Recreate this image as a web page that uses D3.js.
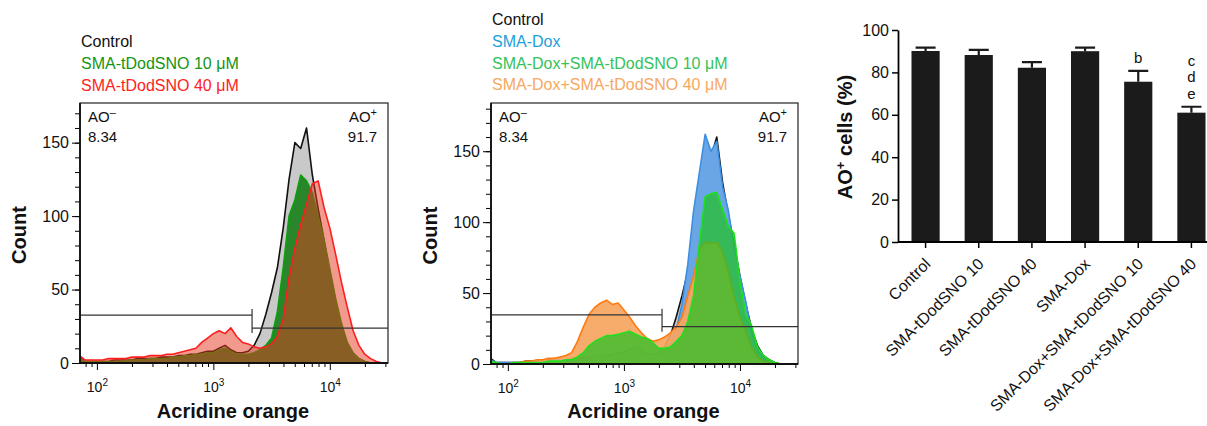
<!DOCTYPE html>
<html>
<head>
<meta charset="utf-8">
<script src="https://cdn.jsdelivr.net/npm/d3@7"></script>
<style>
body { margin: 0; background: #fff; }
svg text { font-family: "Liberation Sans", Arial, sans-serif; fill: #111; }
</style>
</head>
<body>
<svg id="chart" width="1207" height="426"></svg>
<script>
// histogram bins, log10 of acridine orange intensity
var logBins = [
  1.85, 1.90, 1.95, 2.00, 2.05, 2.10, 2.15, 2.20, 2.25, 2.30,
  2.35, 2.40, 2.45, 2.50, 2.55, 2.60, 2.65, 2.70, 2.75, 2.80,
  2.85, 2.90, 2.95, 3.00, 3.05, 3.10, 3.15, 3.20, 3.25, 3.30,
  3.35, 3.40, 3.45, 3.50, 3.55, 3.60, 3.65, 3.70, 3.75, 3.80,
  3.85, 3.90, 3.95, 4.00, 4.05, 4.10, 4.15, 4.20, 4.25, 4.30,
  4.35, 4.40, 4.45, 4.50];

var controlCounts = [
  4, 1, 1, 1, 1, 1, 2, 2, 2, 2,
  3, 3, 3, 3, 4, 4, 4, 5, 5, 6,
  6, 7, 8, 8, 10, 12, 9, 7, 7, 8,
  12, 20, 33, 48, 65, 92, 125, 150, 146, 160,
  128, 105, 84, 62, 42, 25, 13, 6, 3, 1,
  0, 0, 0, 0];

var tDod10Counts = [
  3, 1, 1, 1, 1, 1, 1, 1, 2, 2,
  2, 2, 3, 3, 3, 3, 4, 4, 5, 5,
  6, 6, 7, 7, 9, 10, 8, 6, 6, 6,
  7, 9, 12, 17, 35, 65, 100, 111, 128, 124,
  116, 100, 84, 64, 44, 27, 14, 7, 3, 1,
  0, 0, 0, 0];

var tDod40Counts = [
  5, 2, 2, 2, 2, 3, 3, 3, 3, 4,
  4, 4, 5, 5, 5, 6, 6, 7, 8, 9,
  10, 14, 17, 20, 22, 20, 24, 18, 14, 13,
  11, 10, 11, 13, 18, 30, 58, 78, 94, 108,
  122, 124, 106, 92, 74, 55, 38, 22, 12, 6,
  3, 1, 0, 0];

var doxCounts = [
  3, 1, 1, 1, 1, 1, 1, 2, 2, 2,
  2, 3, 3, 3, 3, 4, 4, 4, 5, 5,
  5, 6, 6, 7, 7, 8, 7, 6, 6, 7,
  10, 14, 24, 42, 70, 108, 135, 162, 150, 157,
  125, 108, 82, 62, 44, 22, 10, 4, 1, 0,
  0, 0, 0, 0];

var dox10Counts = [
  2, 1, 0, 0, 1, 1, 1, 1, 1, 1,
  2, 2, 2, 3, 3, 5, 8, 13, 16, 18,
  20, 20, 21, 22, 23, 21, 19, 18, 15, 11,
  11, 12, 16, 20, 30, 48, 85, 118, 120, 121,
  109, 97, 92, 58, 35, 27, 12, 6, 3, 1,
  0, 0, 0, 0];

var dox40Counts = [
  0, 0, 0, 0, 1, 1, 2, 2, 3, 3,
  4, 4, 5, 6, 8, 16, 26, 35, 40, 43,
  45, 42, 43, 38, 33, 27, 22, 18, 16, 17,
  19, 22, 26, 33, 48, 62, 81, 86, 85, 86,
  79, 65, 47, 33, 23, 12, 5, 2, 1, 0,
  0, 0, 0, 0];

var gateLabels = ["AO", "8.34", "AO", "91.7"];

// bar chart
var barCats = ["Control", "SMA-tDodSNO 10", "SMA-tDodSNO 40", "SMA-Dox",
  "SMA-Dox+SMA-tDodSNO 10", "SMA-Dox+SMA-tDodSNO 40"];
var barMeans = [90.1, 88.2, 82.2, 90.0, 75.6, 61.0];
var barErrors = [1.6, 2.4, 2.6, 1.7, 5.1, 2.8];
var barLetters = [[], [], [], [], ["b"], ["c", "d", "e"]];
var barTicks = [0, 20, 40, 60, 80, 100];

var svg = d3.select("#chart");

function drawHist(p) {
  var x = d3.scaleLog().domain([71.6, 31600]).range([p.left, p.right]);
  var y = d3.scaleLinear().domain([0, p.yMax]).range([p.bottom, p.top]);
  var g = svg.append("g");

  g.append("clipPath").attr("id", "clip" + p.id)
    .append("rect")
    .attr("x", p.left).attr("y", p.top)
    .attr("width", p.right - p.left).attr("height", p.bottom - p.top);

  var area = d3.area()
    .x(function(d, i) { return x(Math.pow(10, logBins[i])); })
    .y0(y(0))
    .y1(function(d) { return y(d); });
  var line = d3.line()
    .x(function(d, i) { return x(Math.pow(10, logBins[i])); })
    .y(function(d) { return y(d); });

  var plot = g.append("g").attr("clip-path", "url(#clip" + p.id + ")");
  p.series.forEach(function(s) {
    plot.append("path").datum(s.counts)
      .attr("d", area)
      .attr("fill", s.fill)
      .attr("fill-opacity", s.alpha);
    plot.append("path").datum(s.counts)
      .attr("d", line)
      .attr("fill", "none")
      .attr("stroke", s.stroke)
      .attr("stroke-width", 1.6)
      .attr("stroke-linejoin", "round");
  });

  // gates
  var gx = x(p.gate);
  g.append("line").attr("x1", p.left).attr("x2", gx)
    .attr("y1", y(p.gateLow)).attr("y2", y(p.gateLow))
    .attr("stroke", "#333").attr("stroke-width", 1.2);
  g.append("line").attr("x1", gx).attr("x2", p.right)
    .attr("y1", y(p.gateHigh)).attr("y2", y(p.gateHigh))
    .attr("stroke", "#333").attr("stroke-width", 1.2);
  g.append("line").attr("x1", gx).attr("x2", gx)
    .attr("y1", y(p.gateLow) - 6).attr("y2", y(p.gateHigh) + 5)
    .attr("stroke", "#333").attr("stroke-width", 1.2);

  // frame
  g.append("rect")
    .attr("x", p.left).attr("y", p.top)
    .attr("width", p.right - p.left).attr("height", p.bottom - p.top)
    .attr("fill", "none").attr("stroke", "#222").attr("stroke-width", 1.2);

  // y axis
  var yMinor = d3.range(0, p.yMax, 10);
  g.append("g").attr("transform", "translate(" + p.left + ",0)")
    .call(d3.axisLeft(y).tickValues(yMinor).tickSize(5).tickFormat(""))
    .call(function(a) { a.select(".domain").remove(); });
  g.append("g").attr("transform", "translate(" + p.left + ",0)")
    .call(d3.axisLeft(y).tickValues([0, 50, 100, 150]).tickSize(8).tickPadding(3))
    .call(function(a) {
      a.select(".domain").remove();
      a.selectAll("text").style("font-size", "16px").attr("fill", "#111");
    });
  g.append("line").attr("x1", p.left).attr("x2", p.left)
    .attr("y1", p.top).attr("y2", p.bottom)
    .attr("stroke", "#111").attr("stroke-width", 1.8);

  // x axis
  var xMinor = [80, 90, 200, 300, 400, 500, 600, 700, 800, 900,
    2000, 3000, 4000, 5000, 6000, 7000, 8000, 9000, 20000, 30000];
  g.append("g").attr("transform", "translate(0," + p.bottom + ")")
    .call(d3.axisBottom(x).tickValues(xMinor).tickSize(4).tickFormat(""))
    .call(function(a) { a.select(".domain").remove(); });
  var xMaj = g.append("g").attr("transform", "translate(0," + p.bottom + ")")
    .call(d3.axisBottom(x).tickValues([100, 1000, 10000]).tickSize(7).tickFormat(""))
    .call(function(a) { a.select(".domain").remove(); });
  xMaj.selectAll(".tick").each(function(d) {
    var t = d3.select(this).append("text")
      .attr("y", 29).attr("text-anchor", "middle")
      .style("font-size", "14px").attr("fill", "#111");
    t.append("tspan").text("10");
    t.append("tspan").attr("dy", -6).style("font-size", "10px")
      .text(Math.round(Math.log10(d)));
  });
  g.append("line").attr("x1", p.left).attr("x2", p.right)
    .attr("y1", p.bottom).attr("y2", p.bottom)
    .attr("stroke", "#111").attr("stroke-width", 1.8);

  // axis titles
  g.append("text")
    .attr("transform", "translate(" + p.countX + "," + ((p.top + p.bottom) / 2 + 2) + ") rotate(-90)")
    .attr("text-anchor", "middle")
    .style("font-size", "20px").style("font-weight", "bold")
    .text("Count");
  g.append("text")
    .attr("x", (p.left + p.right) / 2 - 1).attr("y", 418)
    .attr("text-anchor", "middle")
    .style("font-size", "20px").style("font-weight", "bold")
    .text("Acridine orange");

  // gate labels
  var neg = g.append("text").attr("x", p.left + 8).attr("y", p.top + 19).style("font-size", "15px");
  neg.append("tspan").text(gateLabels[0]);
  neg.append("tspan").attr("dy", -6).style("font-size", "11px").text("\u2013");
  g.append("text").attr("x", p.left + 8).attr("y", p.top + 39).style("font-size", "15px").text(gateLabels[1]);
  var pos = g.append("text").attr("x", p.right - 11).attr("y", p.top + 19)
    .attr("text-anchor", "end").style("font-size", "15px");
  pos.append("tspan").text(gateLabels[2]);
  pos.append("tspan").attr("dy", -6).style("font-size", "11px").text("+");
  g.append("text").attr("x", p.right - 11).attr("y", p.top + 39)
    .attr("text-anchor", "end").style("font-size", "15px").text(gateLabels[3]);

  // legend
  p.legend.forEach(function(l, i) {
    g.append("text")
      .attr("x", p.left + 1).attr("y", p.legendY + i * 21.8)
      .style("font-size", "16px")
      .style("fill", l.color)
      .text(l.name);
  });
}

drawHist({
  id: "a", left: 80, right: 388, top: 103, bottom: 363, yMax: 177,
  countX: 26, gate: 2150, gateLow: 32.6, gateHigh: 23.8,
  legendY: 47,
  legend: [
    { name: "Control", color: "#111" },
    { name: "SMA-tDodSNO 10 \u03bcM", color: "#149414" },
    { name: "SMA-tDodSNO 40 \u03bcM", color: "#ff2222" }
  ],
  series: [
    { counts: controlCounts, fill: "#c9c9c9", alpha: 1, stroke: "#111" },
    { counts: tDod10Counts, fill: "#2a862a", alpha: 1, stroke: "#0e9e0e" },
    { counts: tDod40Counts, fill: "#e8361e", alpha: 0.5, stroke: "#ff1e1e" }
  ]
});

drawHist({
  id: "b", left: 491, right: 798, top: 103, bottom: 364, yMax: 184,
  countX: 437, gate: 2130, gateLow: 34.7, gateHigh: 26.3,
  legendY: 25,
  legend: [
    { name: "Control", color: "#111" },
    { name: "SMA-Dox", color: "#1ea0d8" },
    { name: "SMA-Dox+SMA-tDodSNO 10 \u03bcM", color: "#35c25a" },
    { name: "SMA-Dox+SMA-tDodSNO 40 \u03bcM", color: "#f8a860" }
  ],
  series: [
    { counts: controlCounts, fill: "#c9c9c9", alpha: 1, stroke: "#111" },
    { counts: doxCounts, fill: "#6aa6e6", alpha: 1, stroke: "#3d8fe0" },
    { counts: dox40Counts, fill: "#f7a55f", alpha: 0.92, stroke: "#ff7a10" },
    { counts: dox10Counts, fill: "#22c022", alpha: 0.72, stroke: "#1ee01e" }
  ]
});

// bar chart
var bx = d3.scaleBand().domain(barCats).range([899, 1218])
  .paddingInner(0.47).paddingOuter(0.235);
var by = d3.scaleLinear().domain([0, 100]).range([242, 30]);
var bg = svg.append("g");

bg.selectAll(".bar").data(barCats).enter().append("rect")
  .attr("x", function(d) { return bx(d); })
  .attr("y", function(d, i) { return by(barMeans[i]); })
  .attr("width", bx.bandwidth())
  .attr("height", function(d, i) { return by(0) - by(barMeans[i]); })
  .attr("fill", "#1b1b1b");

bg.selectAll(".err").data(barCats).enter().append("path")
  .attr("d", function(d, i) {
    var cx = bx(d) + bx.bandwidth() / 2;
    var top = by(barMeans[i] + barErrors[i]);
    return "M" + cx + "," + by(barMeans[i]) + "V" + top + "M" + (cx - 10) + "," + top + "H" + (cx + 10);
  })
  .attr("stroke", "#1b1b1b").attr("stroke-width", 2.2).attr("fill", "none");

barLetters.forEach(function(ls, i) {
  var cx = bx(barCats[i]) + bx.bandwidth() / 2;
  var base = by(barMeans[i] + barErrors[i]) - 8;
  ls.forEach(function(l, j) {
    bg.append("text")
      .attr("x", cx).attr("y", base - (ls.length - 1 - j) * 16.5)
      .attr("text-anchor", "middle").style("font-size", "15px")
      .text(l);
  });
});

bg.append("g").attr("transform", "translate(898,0)")
  .call(d3.axisLeft(by).tickValues(barTicks).tickSize(6).tickPadding(3).tickSizeOuter(0))
  .call(function(a) {
    a.select(".domain").attr("stroke-width", 1.8);
    a.selectAll(".tick line").attr("stroke-width", 1.5);
    a.selectAll("text").style("font-size", "16px").attr("fill", "#111");
  });

var bxAxis = bg.append("g").attr("transform", "translate(0,242)")
  .call(d3.axisBottom(bx).tickSize(6).tickSizeOuter(0).tickFormat(""));
bxAxis.select(".domain").attr("d", "M898,0H1207").attr("stroke-width", 1.8);
bxAxis.selectAll(".tick line").attr("stroke-width", 1.5);
bxAxis.selectAll(".tick").append("text")
  .attr("transform", "translate(6,23) rotate(-45)")
  .attr("text-anchor", "end")
  .style("font-size", "16px").attr("fill", "#111")
  .text(function(d) { return d; });

var yl = bg.append("text")
  .attr("transform", "translate(852,137) rotate(-90)")
  .attr("text-anchor", "middle")
  .style("font-size", "20px").style("font-weight", "bold");
yl.append("tspan").text("AO");
yl.append("tspan").attr("dy", -7).style("font-size", "13px").text("+");
yl.append("tspan").attr("dy", 7).text(" cells (%)");
</script>
</body>
</html>
